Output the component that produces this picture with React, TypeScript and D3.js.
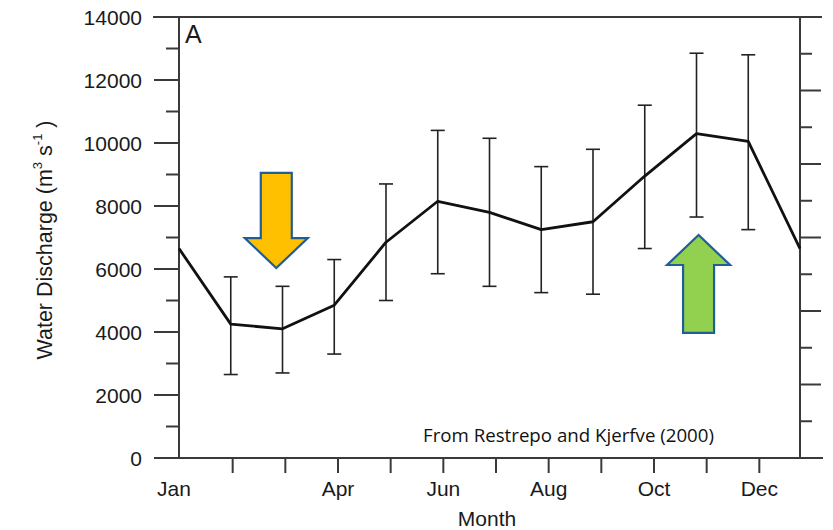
import React from 'react';
import * as d3 from 'd3';

// monthly mean water discharge (m3/s), Jan .. Dec plus the following Jan
const monthIndex = [0, 1, 2, 3, 4, 5, 6, 7, 8, 9, 10, 11, 12];
const meanDischarge = [6650, 4250, 4100, 4850, 6850, 8150, 7800, 7250, 7500, 8950, 10300, 10050, 6650];
const upperDischarge = [null, 5750, 5450, 6300, 8700, 10400, 10150, 9250, 9800, 11200, 12850, 12800, null];
const lowerDischarge = [null, 2650, 2700, 3300, 5000, 5850, 5450, 5250, 5200, 6650, 7650, 7250, null];

const monthTicks = [1, 2, 3, 4, 5, 6, 7, 8, 9, 10, 11];
const monthLabels = ['Jan', '', '', 'Apr', '', 'Jun', '', 'Aug', '', 'Oct', '', 'Dec'];
const yMajorTicks = [0, 2000, 4000, 6000, 8000, 10000, 12000, 14000];
const yMinorTicks = [1000, 3000, 5000, 7000, 9000, 11000, 13000];
const rightTicks = [1, 2, 3, 4, 5, 6, 7, 8, 9, 10, 11];

// annotation arrows: position in month units, tail and tip in discharge units
const arrowMonth = [1.88, 10.04];
const arrowTail = [9050, 3970];
const arrowTip = [6030, 7080];
const arrowFill = ['#FFC000', '#92D050'];

const W = 833;
const H = 530;
const font = "'Liberation Sans', Arial, Helvetica, sans-serif";

const App = () => {
  const x = d3.scaleLinear().domain([0, 12]).range([179, 800]);
  const xTick = d3.scaleLinear().domain([0, 12]).range([180, 812]);
  const y = d3.scaleLinear().domain([0, 14000]).range([458, 17]);
  const yRight = d3.scaleLinear().domain([0, 12]).range([458, 17]);

  const line = d3
    .line<number>()
    .x((_, i) => x(monthIndex[i]))
    .y(d => y(d));

  const axisColor = '#3a3a3a';
  const textColor = '#1a1a1a';
  const shaftHalf = 15.5;
  const headHalf = 31.5;
  const headLen = 30;

  const arrowPath = (i: number) => {
    const cx = x(arrowMonth[i]);
    const tail = y(arrowTail[i]);
    const tip = y(arrowTip[i]);
    const dir = tip > tail ? 1 : -1;
    const base = tip - dir * headLen;
    return [
      [cx - shaftHalf, tail],
      [cx + shaftHalf, tail],
      [cx + shaftHalf, base],
      [cx + headHalf, base],
      [cx, tip],
      [cx - headHalf, base],
      [cx - shaftHalf, base],
    ]
      .map((p, k) => (k ? 'L' : 'M') + p[0] + ',' + p[1])
      .join('') + 'Z';
  };

  return (
    <div style={{ position: 'absolute', left: 0, top: 0 }}>
      <svg width={W} height={H} style={{ display: 'block', background: '#fff' }}>
        {/* frame */}
        <line x1={153} x2={822} y1={y(14000)} y2={y(14000)} stroke={axisColor} strokeWidth={2} />
        <line x1={155} x2={823} y1={y(0)} y2={y(0)} stroke={axisColor} strokeWidth={2} />
        <line x1={x(0)} x2={x(0)} y1={y(0)} y2={y(14000)} stroke={axisColor} strokeWidth={2} />
        <line x1={x(12)} x2={x(12)} y1={y(0)} y2={y(14000)} stroke={axisColor} strokeWidth={2} />

        {/* left axis */}
        {yMajorTicks.map(t => (
          <g key={'ym' + t}>
            <line x1={154} x2={x(0)} y1={y(t)} y2={y(t)} stroke={axisColor} strokeWidth={2} />
            <text x={142} y={y(t) + 7.5} textAnchor="end" fontFamily={font} fontSize={21} fill={textColor}>
              {t}
            </text>
          </g>
        ))}
        {yMinorTicks.map(t => (
          <line key={'yn' + t} x1={166} x2={x(0)} y1={y(t)} y2={y(t)} stroke={axisColor} strokeWidth={2} />
        ))}

        {/* right axis, unlabeled */}
        {rightTicks.map(t => (
          <line
            key={'r' + t}
            x1={x(12)}
            x2={t % 2 === 0 ? 821 : 812}
            y1={yRight(t)}
            y2={yRight(t)}
            stroke={axisColor}
            strokeWidth={2}
          />
        ))}

        {/* bottom axis */}
        {monthTicks.map(m => (
          <line key={'xt' + m} x1={xTick(m)} x2={xTick(m)} y1={y(0)} y2={y(0) + 15} stroke={axisColor} strokeWidth={2} />
        ))}
        {monthLabels.map((lab, m) =>
          lab ? (
            <text key={'xl' + m} x={m === 0 ? xTick(m) - 6 : xTick(m)} y={496} textAnchor="middle" fontFamily={font} fontSize={21} fill={textColor}>
              {lab}
            </text>
          ) : null
        )}
        <text x={487} y={526} textAnchor="middle" fontFamily={font} fontSize={21} fill={textColor}>
          Month
        </text>

        <text
          transform={`translate(52, 240) rotate(-90)`}
          textAnchor="middle"
          fontFamily={font}
          fontSize={21.5}
          fill={textColor}
        >
          Water Discharge (m
          <tspan fontSize={13} dy={-10}>3</tspan>
          <tspan dy={10}> s</tspan>
          <tspan fontSize={13} dy={-10}>-1</tspan>
          <tspan dy={10}> )</tspan>
        </text>

        {/* error bars */}
        {monthIndex.map(i =>
          upperDischarge[i] == null ? null : (
            <g key={'e' + i} stroke="#222" strokeWidth={1.6}>
              <line x1={x(i)} x2={x(i)} y1={y(upperDischarge[i] as number)} y2={y(lowerDischarge[i] as number)} />
              <line x1={x(i) - 7} x2={x(i) + 7} y1={y(upperDischarge[i] as number)} y2={y(upperDischarge[i] as number)} />
              <line x1={x(i) - 7} x2={x(i) + 7} y1={y(lowerDischarge[i] as number)} y2={y(lowerDischarge[i] as number)} />
            </g>
          )
        )}

        {/* mean discharge */}
        <path d={line(meanDischarge) || ''} fill="none" stroke="#111" strokeWidth={2.8} strokeLinejoin="round" />

        <text x={185} y={43} fontFamily={font} fontSize={25} fill={textColor}>
          A
        </text>

        <text x={423} y={442} fontFamily="'Open Sans', 'Noto Sans', sans-serif" fontSize={18.5} textLength={291} lengthAdjust="spacingAndGlyphs" fill="#111">
          From Restrepo and Kjerfve (2000)
        </text>

        {arrowMonth.map((_, i) => (
          <path key={'a' + i} d={arrowPath(i)} fill={arrowFill[i]} stroke="#1F5E96" strokeWidth={2.2} strokeLinejoin="miter" />
        ))}
      </svg>
    </div>
  );
};

export default App;
